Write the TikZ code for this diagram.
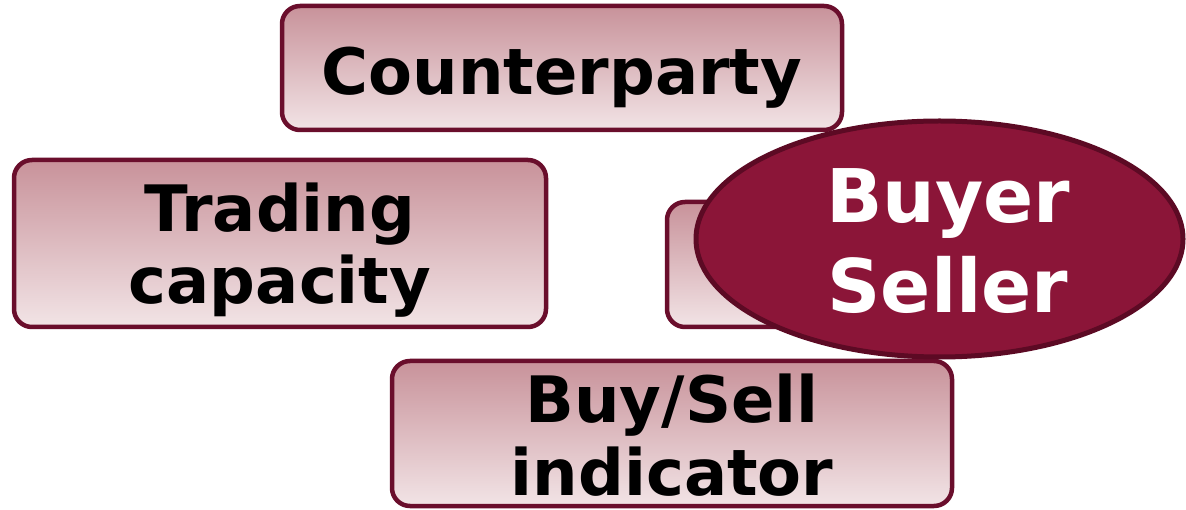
\documentclass[tikz,border=0pt]{standalone}
\usepackage{fontspec}
\setmainfont{DejaVu Sans}
\usetikzlibrary{shapes.geometric}
\definecolor{boxtop}{HTML}{C8929A}
\definecolor{boxbot}{HTML}{F2E4E6}
\definecolor{boxline}{HTML}{6A0E2C}
\definecolor{ellfill}{HTML}{8B1538}
\definecolor{ellline}{HTML}{5C0A24}
\tikzset{
  rbox/.style={draw=boxline, line width=4.5pt, rounded corners=18pt,
    top color=boxtop, bottom color=boxbot, inner sep=0pt},
  lbl/.style={font=\bfseries\fontsize{64}{75}\selectfont, anchor=base, inner sep=0pt, text=black},
  wlbl/.style={font=\bfseries\fontsize{74}{88}\selectfont, anchor=base, inner sep=0pt, text=white},
}
\begin{document}
\begin{tikzpicture}[x=1pt,y=-1pt]
\useasboundingbox (0,0) rectangle (1186,510);
\node[rbox, minimum width=560pt, minimum height=124pt] (cp) at (562,68) {};
\node[lbl] (cpt) at (562,95) {Counterparty};
\node[rbox, minimum width=532pt, minimum height=167pt] (tc) at (280,243.5) {};
\node[lbl] (tc1) at (280,232) {Trading};
\node[lbl] (tc2) at (280,304) {capacity};
\node[rbox, minimum width=240pt, minimum height=125pt] (hb) at (787,264.5) {};
\node[rbox, minimum width=560pt, minimum height=145pt] (bs) at (672,433.5) {};
\node[lbl] (bs1) at (672,422) {Buy/Sell};
\node[lbl] (bs2) at (672,495) {indicator};
\node[ellipse, draw=ellline, line width=5pt, fill=ellfill, minimum width=487pt, minimum height=236pt, inner sep=0pt] (bsl) at (939.5,239) {};
\node[wlbl] (b1) at (948,223) {Buyer};
\node[wlbl] (b2) at (948,313) {Seller};
\end{tikzpicture}
\end{document}
